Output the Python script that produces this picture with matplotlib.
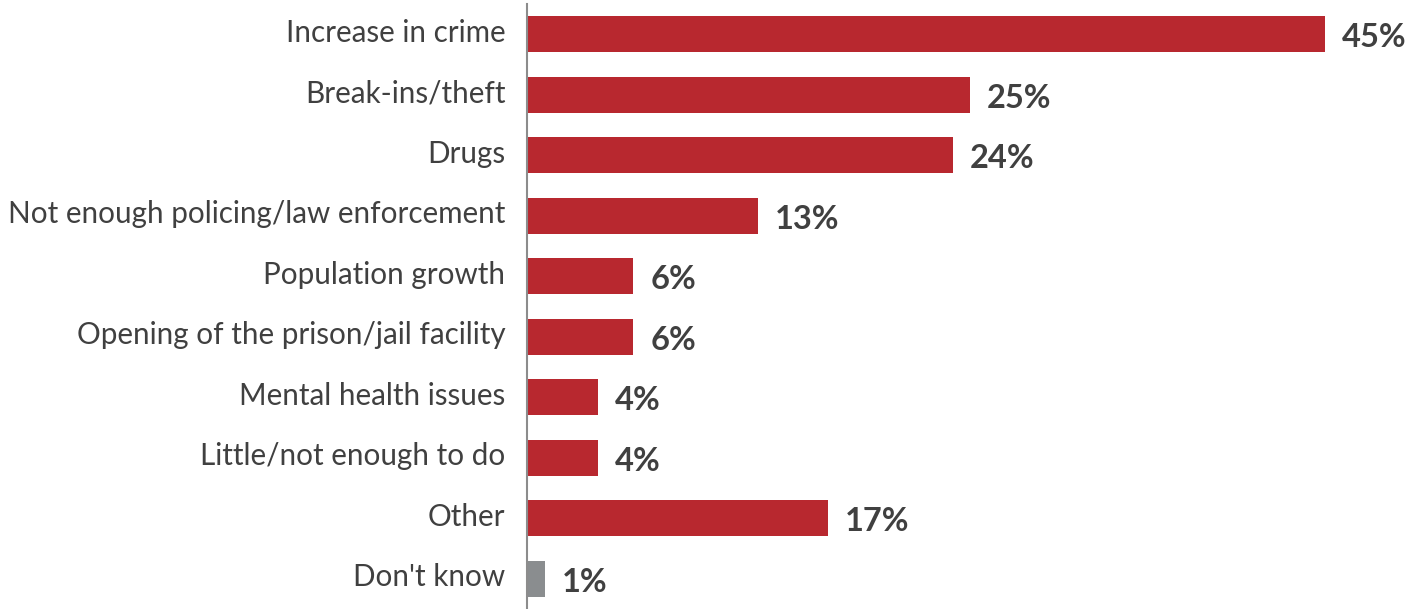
import matplotlib.pyplot as plt
from matplotlib.transforms import ScaledTranslation

categories = [
    "Increase in crime",
    "Break-ins/theft",
    "Drugs",
    "Not enough policing/law enforcement",
    "Population growth",
    "Opening of the prison/jail facility",
    "Mental health issues",
    "Little/not enough to do",
    "Other",
    "Don't know",
]
values = [45, 25, 24, 13, 6, 6, 4, 4, 17, 1]
bar_colors = ["#b8282f"] * 9 + ["#8a8d8f"]

plt.rcParams["font.family"] = ["Lato", "DejaVu Sans"]
text_color = "#404040"

fig = plt.figure(figsize=(14.1, 6.09), dpi=100)
ax = fig.add_axes([527 / 1410, 0, 1 - 527 / 1410, 605 / 609])

pos = list(range(len(categories)))
ax.barh(pos, values, height=0.6, color=bar_colors)
ax.set_ylim(9.5, -0.5)
ax.set_xlim(0, 49.8)

for y, v in zip(pos, values):
    ax.text(v + 0.95, y + 0.06, f"{v}%", va="center", ha="left",
            fontsize=23.5, fontweight="bold", color=text_color)

ax.set_yticks(pos)
ax.set_yticklabels(categories, fontsize=21.3, color=text_color)
ax.tick_params(axis="y", length=0, pad=15.5)
# nudge category labels up a few pixels
shift = ScaledTranslation(0, 4 / 100, fig.dpi_scale_trans)
for lbl in ax.get_yticklabels():
    lbl.set_transform(lbl.get_transform() + shift)
ax.set_xticks([])
for side in ["top", "right", "bottom"]:
    ax.spines[side].set_visible(False)
ax.spines["left"].set_color("#8c8c8c")
ax.spines["left"].set_linewidth(1.5)

fig.savefig("out.png", dpi=100)
